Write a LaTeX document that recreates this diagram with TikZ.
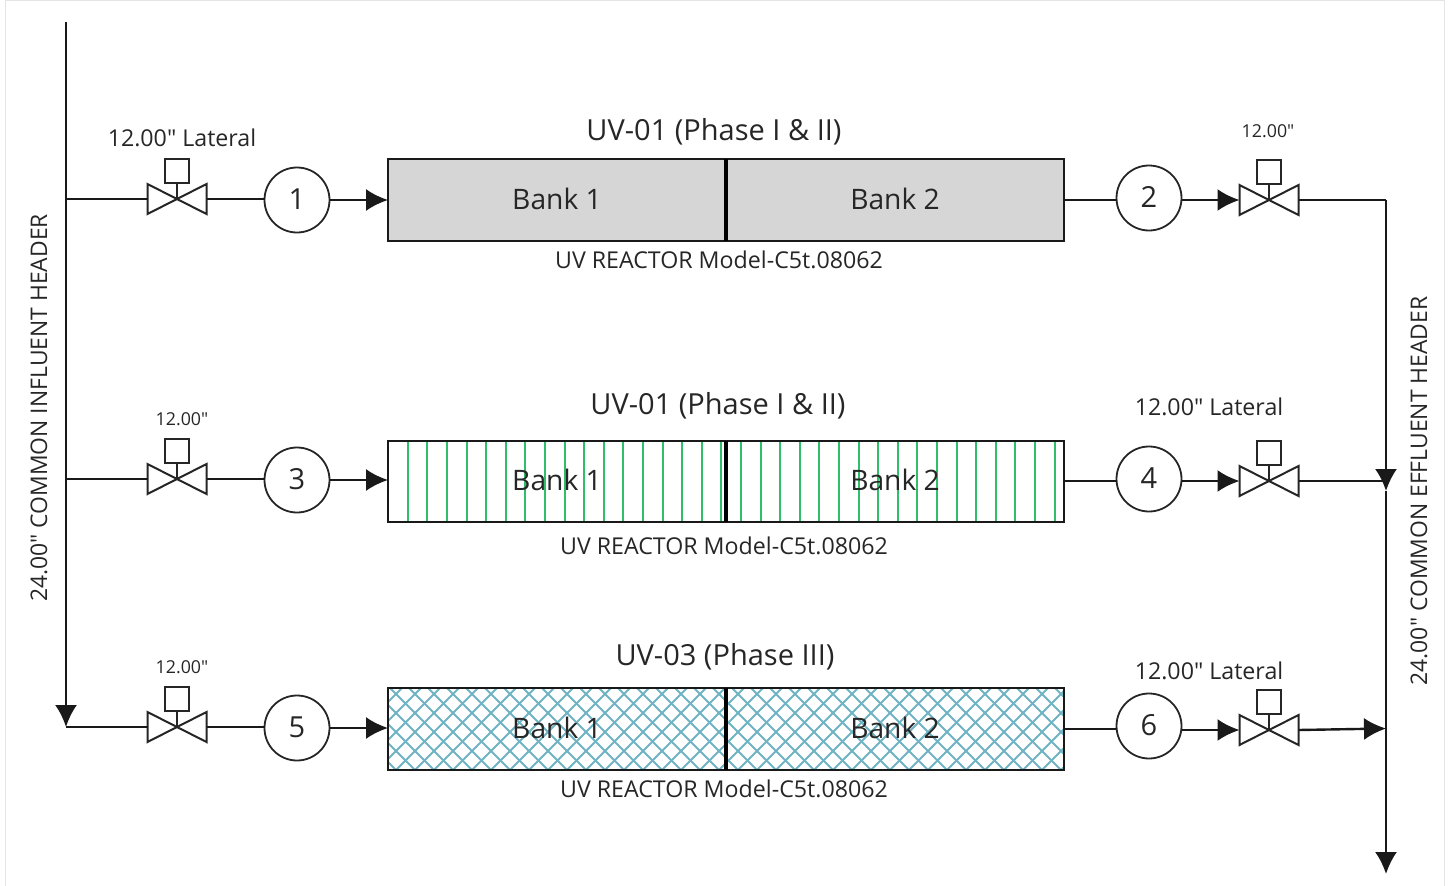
\documentclass[tikz,border=0pt]{standalone}
\usepackage{fontspec}
\setmainfont[Ligatures=TeXOff]{Open Sans}
\usepackage{xcolor}
\usetikzlibrary{arrows.meta,positioning}
\definecolor{bankgray}{HTML}{D6D6D6}
\definecolor{bankgreen}{HTML}{2FBF6B}
\definecolor{bankteal}{HTML}{70B3C3}
\definecolor{txtgray}{HTML}{262626}
% valve: name, position
\newcommand{\valve}[2]{
\node[valvebody] (#1) at (#2) {};
\node[actuator] (#1top) at ([yshift=28pt]#1.center) {};
\draw[thick2] (#1.center) -- (#1top);
\draw[thick2,line join=miter] (#1.center) -- (#1.north west) -- (#1.south west) -- cycle;
\draw[thick2,line join=miter] (#1.center) -- (#1.north east) -- (#1.south east) -- cycle;
}
\begin{document}
\begin{tikzpicture}[x=1pt,y=-1pt,>={Latex[length=22pt,width=22pt]}]
\tikzstyle{thick2}=[line width=2pt,draw=black!85]
\tikzstyle{pipe}=[line width=2.4pt,draw=black!90]
\tikzstyle{valvebody}=[rectangle,minimum width=59pt,minimum height=30pt,inner sep=0pt,outer sep=0pt]
\tikzstyle{actuator}=[rectangle,draw=black!85,line width=2pt,fill=white,minimum size=24pt,inner sep=0pt,outer sep=0pt]
\tikzstyle{tag}=[circle,draw=black!85,line width=1.8pt,minimum size=65pt,inner sep=0pt,outer sep=0pt,font=\fontsize{29pt}{32pt}\selectfont,text=txtgray]
\tikzstyle{bank}=[rectangle,draw=black!90,line width=2pt,minimum width=338pt,inner sep=0pt,outer sep=0pt,font=\fontsize{28.2pt}{32pt}\selectfont,text=txtgray]
\tikzstyle{title}=[font=\fontsize{29pt}{32pt}\selectfont,text=txtgray,inner sep=0pt]
\tikzstyle{sub}=[font=\fontsize{23.2pt}{26pt}\selectfont,text=txtgray,inner sep=0pt]
\tikzstyle{vert}=[rotate=90,font=\fontsize{22.9pt}{26pt}\selectfont,text=txtgray,inner sep=0pt]
\tikzstyle{small}=[font=\fontsize{17.8pt}{20pt}\selectfont,text=txtgray,inner sep=0pt]
\useasboundingbox (0,0) rectangle (1451,886);
\draw[black!10,line width=1pt] (5,886) -- (5,0) -- (1444,0) -- (1444,886);

% hatching of the second and third reactor
\begin{scope}
\clip (388,441) rectangle (1064,522);
\foreach \i in {0,...,33} \draw[bankgreen,line width=2pt] ({407.7+19.6*\i},441) -- ({407.7+19.6*\i},522);
\end{scope}
\begin{scope}
\clip (388,688) rectangle (1064,770);
\foreach \i in {-6,...,38} {
\draw[bankteal,line width=2pt] ({390+19*\i},688) -- ({390+19*\i+82},770);
\draw[bankteal,line width=2pt] ({396+19*\i},770) -- ({396+19*\i+82},688);
}
\end{scope}

\node[bank,fill=bankgray,minimum height=82pt] (bank11) at (557,200) {\raisebox{2pt}{Bank 1}};
\node[bank,fill=bankgray,minimum height=82pt] (bank12) at (895,200) {\raisebox{2pt}{Bank 2}};
\node[bank,minimum height=81pt] (bank21) at (557,481) {\raisebox{2pt}{Bank 1}};
\node[bank,minimum height=81pt] (bank22) at (895,481) {\raisebox{2pt}{Bank 2}};
\node[bank,minimum height=82pt] (bank31) at (557,729) {\raisebox{2pt}{Bank 1}};
\node[bank,minimum height=82pt] (bank32) at (895,729) {\raisebox{2pt}{Bank 2}};
\draw[line width=3.5pt] (bank11.north east) -- (bank11.south east);
\draw[line width=3.5pt] (bank21.north east) -- (bank21.south east);
\draw[line width=3.5pt] (bank31.north east) -- (bank31.south east);

\node[title] (title1) at (714,132) {UV-01 (Phase I \& II)};
\node[title] (title2) at (718,406) {UV-01 (Phase I \& II)};
\node[title] (title3) at (725,657) {UV-03 (Phase III)};
\node[sub] (model1) at (719,260) {UV REACTOR Model-C5t.08062};
\node[sub] (model2) at (724,546) {UV REACTOR Model-C5t.08062};
\node[sub] (model3) at (724,789) {UV REACTOR Model-C5t.08062};

\node[tag] (tag1) at (297,200) {\raisebox{1.5pt}{1}};
\node[tag] (tag2) at (1149,198) {\raisebox{1.5pt}{2}};
\node[tag] (tag3) at (297,480) {\raisebox{1.5pt}{3}};
\node[tag] (tag4) at (1149,479) {\raisebox{1.5pt}{4}};
\node[tag] (tag5) at (297,728) {\raisebox{1.5pt}{5}};
\node[tag] (tag6) at (1149,726) {\raisebox{1.5pt}{6}};

\valve{valve1}{177,199}
\valve{valve2}{1269,200}
\valve{valve3}{177,479}
\valve{valve4}{1269,481}
\valve{valve5}{177,727}
\valve{valve6}{1269,730}

\node[sub] (lat1) at (182,138) {12.00" Lateral};
\node[small] (lat3) at (182,419) {12.00"};
\node[small] (lat5) at (182,667) {12.00"};
\node[small] (lat2) at (1268,131) {12.00"};
\node[sub] (lat4) at (1209,407) {12.00" Lateral};
\node[sub] (lat6) at (1209,671) {12.00" Lateral};
\node[vert] (inhead) at (39,408) {24.00" COMMON INFLUENT HEADER};
\node[vert] (outhead) at (1419,491) {24.00" COMMON EFFLUENT HEADER};

\coordinate (intop) at (66,22);
\coordinate (in1) at (66,199);
\coordinate (in3) at (66,479);
\coordinate (in5) at (66,727);
\coordinate (out1) at (1386,200);
\coordinate (out3) at (1386,491);
\coordinate (out5) at (1386,728.5);
\coordinate (outend) at (1386,874);

\draw[pipe,->] (intop) -- (in5);
\draw[pipe] (in1) -- (valve1.west);
\draw[pipe] (in3) -- (valve3.west);
\draw[pipe] (in5) -- (valve5.west);
\draw[pipe] (valve1.east) -- (valve1.east-|tag1.west);
\draw[pipe] (valve3.east) -- (valve3.east-|tag3.west);
\draw[pipe] (valve5.east) -- (valve5.east-|tag5.west);
\draw[pipe,->] (tag1.east) -- (tag1.east-|bank11.west);
\draw[pipe,->] (tag3.east) -- (tag3.east-|bank21.west);
\draw[pipe,->] (tag5.east) -- (tag5.east-|bank31.west);
\draw[pipe] (bank12.east) -- (bank12.east-|tag2.west);
\draw[pipe] (bank22.east) -- (bank22.east-|tag4.west);
\draw[pipe] (bank32.east) -- (bank32.east-|tag6.west);
\draw[pipe,->] (valve2.west-|tag2.east) -- (valve2.west);
\draw[pipe,->] (valve4.west-|tag4.east) -- (valve4.west);
\draw[pipe,->] (valve6.west-|tag6.east) -- (valve6.west);
\draw[pipe] (valve2.east) -- (out1);
\draw[pipe] (valve4.east) -- (valve4.east-|out3);
\draw[pipe,->] (valve6.east) -- (out5);
\draw[pipe,->] (out1) -- (out3);
\draw[pipe,->] (out3) -- (outend);
\end{tikzpicture}
\end{document}
